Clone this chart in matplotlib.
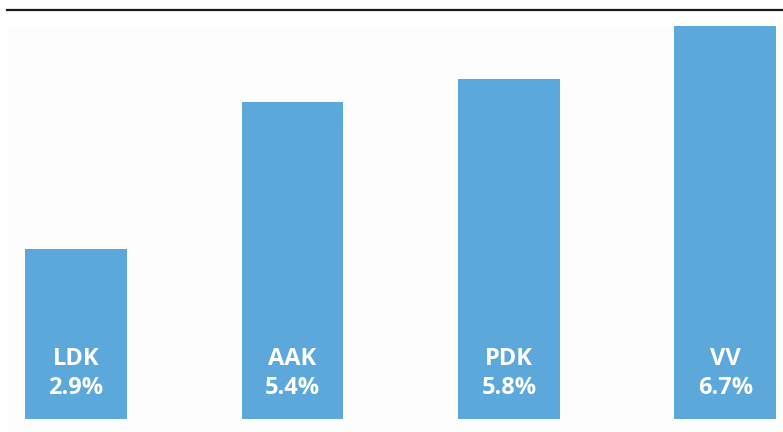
import matplotlib
matplotlib.use("Agg")
import matplotlib.pyplot as plt
from matplotlib.patches import Rectangle

categories = ["LDK", "AAK", "PDK", "VV"]
values = [2.9, 5.4, 5.8, 6.7]
value_labels = ["2.9%", "5.4%", "5.8%", "6.7%"]

W, H = 783, 432
fig = plt.figure(figsize=(W / 100, H / 100), dpi=100)
fig.patch.set_facecolor("white")

# faint background panel
bg = fig.add_axes([0, 0, 1, 1], zorder=0)
bg.set_xlim(0, W)
bg.set_ylim(H, 0)
bg.axis("off")
bg.add_patch(Rectangle((7, 26), W - 7, H - 26, facecolor="#fdfdfd", edgecolor="none"))

ax_left, ax_right = 7, 783
ax_top, ax_bottom = 10, 419
ax = fig.add_axes([ax_left / W, 1 - ax_bottom / H, (ax_right - ax_left) / W, (ax_bottom - ax_top) / H], zorder=1)
ax.patch.set_visible(False)

x = list(range(len(categories)))
ax.bar(x, values, width=0.471, color="#5DA8DB", zorder=2)

for i, (c, lab) in enumerate(zip(categories, value_labels)):
    ax.text(i, 1.03, c, ha="center", va="center", color="white",
            fontsize=17, fontweight="bold", family="Open Sans", zorder=3)
    ax.text(i, 0.52, lab, ha="center", va="center", color="white",
            fontsize=17, fontweight="bold", family="Open Sans", zorder=3)

ax.set_xlim(-0.319, 3.266)
ax.set_ylim(0, 6.97)
for s in ["left", "right", "bottom"]:
    ax.spines[s].set_visible(False)
ax.spines["top"].set_linewidth(1.6)
ax.spines["top"].set_color("#1a1a1a")
ax.set_xticks([])
ax.set_yticks([])

fig.savefig("out.png", dpi=100)
